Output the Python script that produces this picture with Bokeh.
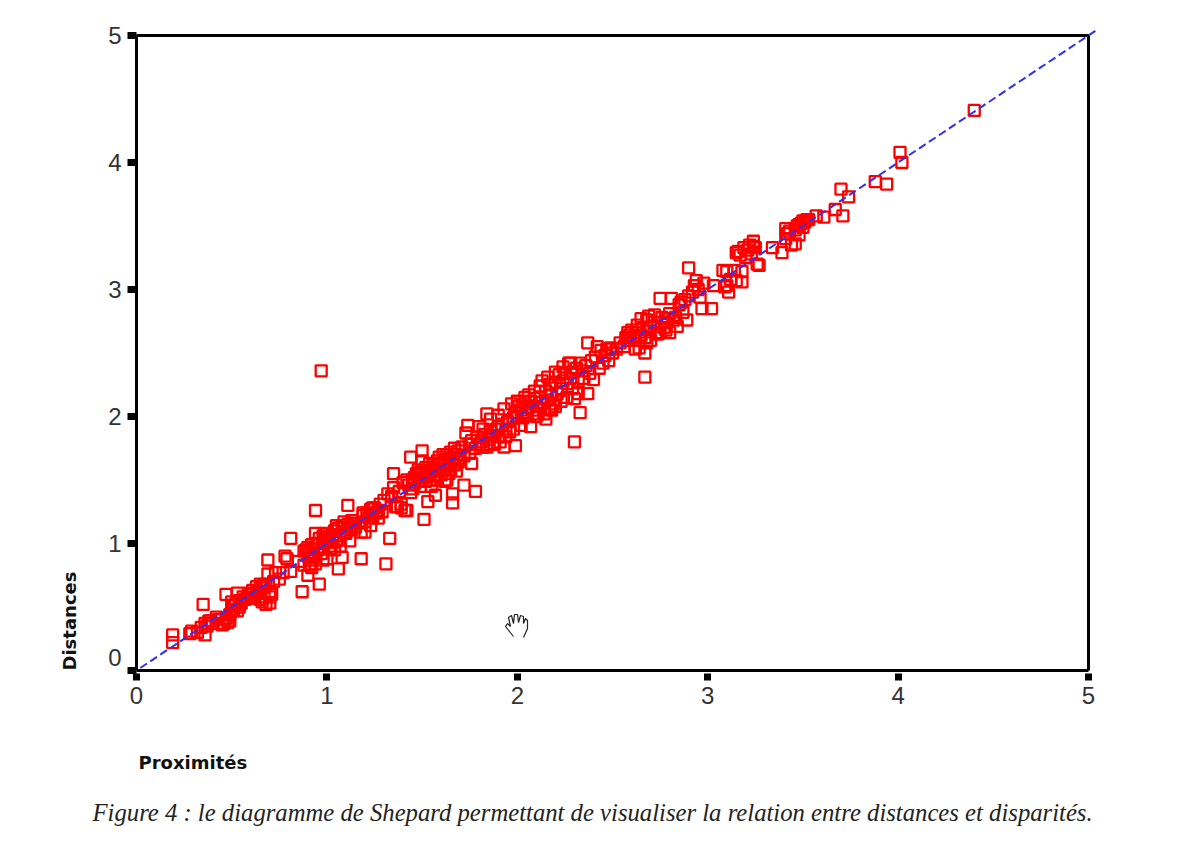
from math import pi
from bokeh.plotting import figure
from bokeh.models import Range1d, LinearAxis, FixedTicker, Label
from bokeh.core.properties import value
from bokeh.embed import file_html
from bokeh.resources import INLINE

TICKS = [0, 1, 2, 3, 4, 5]
X_TITLE = "Proximités"
Y_TITLE = "Distances"
CAPTION = "Figure 4 : le diagramme de Shepard permettant de visualiser la relation entre distances et disparités."

prox_1 = [.19,.19,.28,.29,.32,.34,.35,.36,.36,.37,.38,.39,.40,.42,.43,.45,.46,.47,.47,.48,.49,.49,.50,.50,.51,.51,.52,.53,.53,.54,.54,.55,.56,.57,.58,.59]
dist_1 = [.28,.22,.29,.31,.30,.34,.52,.28,.37,.35,.39,.39,.37,.42,.40,.36,.37,.60,.41,.38,.39,.44,.54,.48,.47,.51,.52,.61,.47,.50,.55,.53,.58,.56,.57,.61]
prox_2 = [.60,.61,.62,.63,.63,.64,.65,.65,.66,.66,.67,.67,.68,.68,.69,.69,.70,.70,.70,.71,.72,.73,.75,.77,.78,.79,.81,.81,.85,.87,.88,.89,.90,.90,.90,.91,.91,.92,.92,.93,.93,.94,.94,.95,.95,.96,.96,.97,.97,.98,.98,.99]
dist_2 = [.60,.63,.57,.66,.61,.62,.56,.68,.54,.65,.67,.58,.52,.68,.76,.87,.62,.53,.58,.60,.70,.77,.72,.77,.90,.88,.78,1.04,.86,.62,.83,.95,.75,.90,.97,.83,.93,.87,.99,.91,.96,1.26,.84,1.00,.95,.68,1.04,.92,2.36,1.06,.97,1.01]
prox_3 = [1.00,1.00,1.01,1.02,1.03,1.04,1.04,1.05,1.06,1.06,1.07,1.08,1.08,1.09,1.10,1.11,1.11,1.12,1.12,1.13,1.14,1.15,1.18,1.18,1.19,1.20,1.21,1.22,1.23,1.24,1.25,1.26,1.27,1.28,1.29,1.30]
dist_3 = [.88,1.03,1.05,.98,1.07,.95,1.10,1.02,.80,1.12,1.06,.89,1.13,1.09,1.08,1.30,1.15,1.02,1.13,1.11,1.16,1.13,.88,1.16,1.22,1.17,1.24,1.20,1.27,1.21,1.28,1.24,1.26,1.31,1.25,1.34]
prox_4 = [1.31,1.32,1.33,1.34,1.35,1.35,1.36,1.37,1.38,1.39,1.40,1.41,1.42,1.42,1.43,1.44,1.44,1.45,1.45,1.46,1.46,1.47,1.48,1.48,1.49,1.49,1.50,1.50,1.50,1.51,1.51,1.52,1.52,1.53,1.53,1.54,1.54,1.55,1.55,1.56,1.56,1.57,1.57,1.58,1.58,1.59,1.59,1.60,1.60,1.61,1.61,1.62,1.62,1.63,1.63,1.64,1.64,1.65,1.65,1.66,1.66,1.66,1.67,1.67,1.68,1.68,1.69,1.69]
dist_4 = [.84,1.39,1.04,1.37,1.44,1.55,1.29,1.29,1.41,1.31,1.48,1.26,1.26,1.50,1.46,1.68,1.40,1.50,1.43,1.52,1.47,1.55,1.50,1.58,1.45,1.56,1.73,1.54,1.65,1.19,1.52,1.49,1.60,1.33,1.55,1.63,1.50,1.58,1.45,1.62,1.53,1.38,1.59,1.65,1.50,1.57,1.68,1.63,1.54,1.70,1.58,1.66,1.49,1.50,1.70,1.61,1.55,1.72,1.58,1.32,1.39,1.68,1.62,1.75,1.57,1.70,1.73,1.64]
prox_5 = [1.70,1.71,1.72,1.72,1.73,1.74,1.75,1.75,1.76,1.76,1.78,1.78,1.79,1.80,1.81,1.82,1.82,1.83,1.84,1.84,1.85,1.86,1.87,1.88,1.89,1.90,1.90,1.91,1.92,1.93,1.93,1.94,1.95,1.96,1.97,1.98,1.99,1.99]
dist_5 = [1.67,1.76,1.46,1.69,1.87,1.93,1.78,1.71,1.63,1.81,1.41,1.75,1.84,1.78,1.80,1.90,1.76,1.86,2.02,1.78,1.82,1.88,1.85,1.79,1.90,1.84,1.92,1.80,1.94,1.76,2.06,1.90,1.96,1.88,2.10,1.99,1.77,2.03]
prox_6 = [2.00,2.01,2.02,2.02,2.03,2.04,2.05,2.06,2.06,2.07,2.07,2.08,2.09,2.10,2.11,2.12,2.13,2.13,2.14,2.15,2.15,2.16,2.17,2.17,2.18,2.19,2.20,2.21,2.22,2.23,2.24,2.25,2.26,2.27,2.28,2.29,2.30,2.30,2.31,2.32,2.32,2.33,2.33,2.34,2.35,2.36,2.37,2.37,2.38,2.39]
dist_6 = [2.00,2.08,1.93,2.05,1.99,2.10,2.03,2.17,2.07,1.92,2.12,2.05,2.14,2.08,2.02,2.15,2.28,2.11,2.06,1.98,2.20,2.13,2.06,2.25,2.17,2.10,2.27,2.18,2.33,2.22,2.28,2.34,2.26,2.42,2.30,2.35,1.80,2.14,2.38,2.28,2.18,2.03,2.42,2.36,2.30,2.40,2.58,2.18,2.34,2.44]
prox_7 = [2.40,2.41,2.42,2.43,2.44,2.45,2.46,2.47,2.48,2.49,2.50,2.52,2.54,2.56,2.57,2.58,2.59,2.60,2.61,2.62,2.63,2.64,2.65,2.65,2.66,2.67,2.67,2.67,2.68,2.69,2.70,2.72,2.73,2.74,2.75,2.76,2.77,2.78,2.79,2.80,2.80,2.81,2.82,2.83,2.84,2.85,2.86,2.87,2.88,2.89,2.90,2.90]
dist_7 = [2.29,2.47,2.55,2.38,2.52,2.42,2.48,2.53,2.44,2.54,2.50,2.53,2.58,2.55,2.62,2.60,2.64,2.68,2.62,2.66,2.72,2.60,2.77,2.64,2.70,2.31,2.50,2.62,2.76,2.79,2.70,2.74,2.65,2.65,2.93,2.78,2.70,2.74,2.77,2.66,2.81,2.93,2.76,2.78,2.71,2.88,2.90,2.82,2.92,2.76,3.17,2.95]
prox_8 = [2.92,2.93,2.94,2.95,2.96,2.97,2.98,3.02,3.03,3.08,3.09,3.10,3.10,3.11,3.12,3.14,3.15,3.15,3.16,3.18,3.18,3.17,3.19,3.20,3.21,3.22,3.23,3.24,3.24,3.25,3.26,3.27]
dist_8 = [2.98,3.03,3.07,3.00,2.94,2.85,3.05,2.85,3.03,3.15,3.02,3.14,3.03,2.98,3.08,3.15,3.29,3.07,3.30,3.14,3.06,3.27,3.33,3.25,3.31,3.35,3.28,3.38,3.34,3.33,3.20,3.19]
prox_9 = [3.34,3.39,3.41,3.41,3.42,3.43,3.44,3.46,3.46,3.47,3.48,3.48,3.49,3.50,3.50,3.51,3.52,3.53,3.57,3.61,3.67,3.70,3.71,3.74,3.88,3.94,4.01,4.02,4.40]
dist_9 = [3.33,3.29,3.48,3.40,3.44,3.46,3.35,3.36,3.47,3.50,3.43,3.51,3.52,3.54,3.49,3.53,3.55,3.55,3.58,3.57,3.63,3.79,3.58,3.73,3.85,3.83,4.08,4.00,4.41]
prox_10 = [.94,.99,1.05,1.09,1.13,1.19,1.24,1.18,1.20,1.07,1.02,.92,.98,.93,.88,1.03,1.23,1.27,1.39,1.80,1.86,1.90,1.84,1.88,1.94,1.98,2.00,2.04,2.09,2.12,2.16,2.20,2.24,2.28,2.10,2.14,2.18,2.20,2.23,2.26,2.29,2.62,2.58,2.64,2.70,2.72,2.75,2.78,2.68]
dist_10 = [1.08,1.08,1.14,1.17,1.18,1.24,1.28,1.09,1.09,.98,.96,.81,.87,.89,.94,1.01,1.14,1.20,1.28,1.92,1.98,2.01,1.76,1.78,1.84,1.90,2.12,2.15,2.20,2.24,2.31,2.35,2.39,2.42,2.00,2.02,2.05,2.08,2.12,2.15,2.22,2.53,2.66,2.54,2.60,2.80,2.66,2.68,2.58]

prox = prox_1 + prox_2 + prox_3 + prox_4 + prox_5 + prox_6 + prox_7 + prox_8 + prox_9 + prox_10
dist = dist_1 + dist_2 + dist_3 + dist_4 + dist_5 + dist_6 + dist_7 + dist_8 + dist_9 + dist_10

diag = [0.02, 5.05]


def X(px):
    return (px - 136) / 190.4


def Y(py):
    return (670 - py) / 127


p = figure(width=1170, height=845, x_range=Range1d(X(0), X(1170)), y_range=Range1d(Y(845), Y(0)),
           x_axis_location=None, y_axis_location=None, min_border=0, outline_line_color=None,
           toolbar_location=None, output_backend="svg", background_fill_color="white")
p.grid.visible = False

INK = "#333333"
xa = LinearAxis(fixed_location=0, ticker=FixedTicker(ticks=TICKS), bounds=(0, 5))
ya = LinearAxis(fixed_location=0, ticker=FixedTicker(ticks=TICKS), bounds=(0, 5),
                major_label_overrides={0: ""})
for ax in (xa, ya):
    ax.axis_line_color = "black"
    ax.axis_line_width = 3
    ax.major_tick_line_color = "black"
    ax.major_tick_line_width = 7
    ax.minor_tick_line_color = None
    ax.major_label_text_font = "Liberation Sans"
    ax.major_label_text_font_size = "24px"
    ax.major_label_text_color = INK
xa.major_tick_in = -3
xa.major_tick_out = 10
xa.major_label_standoff = 6
ya.major_tick_in = 0
ya.major_tick_out = 9
ya.major_label_standoff = 6
p.add_layout(xa, "below")
p.add_layout(ya, "left")

p.line([0, 5, 5], [5, 5, 0], line_color="black", line_width=3)
p.scatter(prox, dist, marker="square", size=11, fill_color=None, line_color="#ff0000", line_width=2.3)
p.line(diag, diag, line_color="#3030f0", line_width=2, line_dash="8 4")

p.text([0], [0], text=["0"], x_offset=-15, y_offset=-13, text_align="right", text_baseline="middle",
       text_font=value("Liberation Sans"), text_font_size="24px", text_color=INK)

# hand-shaped cursor left in the screenshot
hand_px = [513, 505, 507, 510, 508, 511, 513, 514, 517, 518, 520, 523, 523, 525, 527, 527, 523]
hand_py = [636, 626, 623, 626, 617, 615, 623, 614, 614, 622, 615, 616, 623, 618, 620, 628, 637]
p.line([X(v) for v in hand_px], [Y(v) for v in hand_py], line_color="#222222", line_width=1.2)

p.add_layout(Label(x=X(138), y=Y(762), text=X_TITLE, text_font="DejaVu Sans", text_font_style="bold",
                   text_font_size="18px", text_color="#111111", text_baseline="alphabetic"))
p.add_layout(Label(x=X(69), y=Y(670), text=Y_TITLE, angle=pi / 2, text_font="DejaVu Sans", text_font_style="bold",
                   text_font_size="18px", text_color="#111111", text_baseline="alphabetic"))
p.add_layout(Label(x=X(92), y=Y(812), text=CAPTION, text_font="Liberation Serif", text_font_style="italic",
                   text_font_size="24.7px", text_color="#222222", text_baseline="alphabetic"))

open("out.html", "w").write(file_html(p, INLINE))
